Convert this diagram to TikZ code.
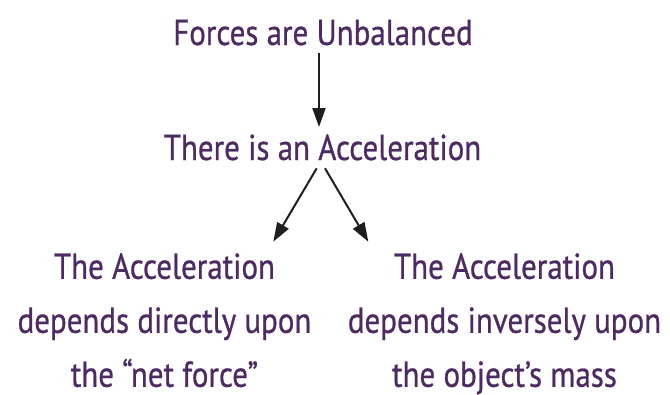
\documentclass[tikz,border=0pt]{standalone}
\usepackage{fontspec}
\setmainfont{PT Sans}[FakeStretch=0.86,FakeBold=0.7]
\usetikzlibrary{arrows.meta}
\definecolor{txtpurple}{RGB}{78,42,98}
\definecolor{arrowblack}{RGB}{30,30,30}
\begin{document}
\begin{tikzpicture}[x=1pt,y=-1pt,
  lbl/.style={text=txtpurple,inner sep=0pt,align=center,font=\fontsize{36}{54}\selectfont},
  conn/.style={draw=arrowblack,line width=2pt,-{Triangle[length=19pt,width=13pt]}}]
\useasboundingbox (0,0) rectangle (670,394);
\node[lbl,anchor=base] (top) at (323,45) {Forces are Unbalanced};
\node[lbl,anchor=base] (mid) at (322.5,160) {There is an Acceleration};
\node[lbl,anchor=north] (left) at (164.5,253) {The Acceleration\\depends directly upon\\the “net force”};
\node[lbl,anchor=north] (right) at (504.5,253) {The Acceleration\\depends inversely upon\\the object’s mass};
\coordinate (a1) at (319,53);
\coordinate (a2) at (319,127);
\coordinate (b1) at (316.7,168.3);
\coordinate (b2) at (273.3,241.7);
\coordinate (c1) at (325,168.3);
\coordinate (c2) at (368.3,241.7);
\draw[conn] (a1) -- (a2);
\draw[conn] (b1) -- (b2);
\draw[conn] (c1) -- (c2);
\end{tikzpicture}
\end{document}
